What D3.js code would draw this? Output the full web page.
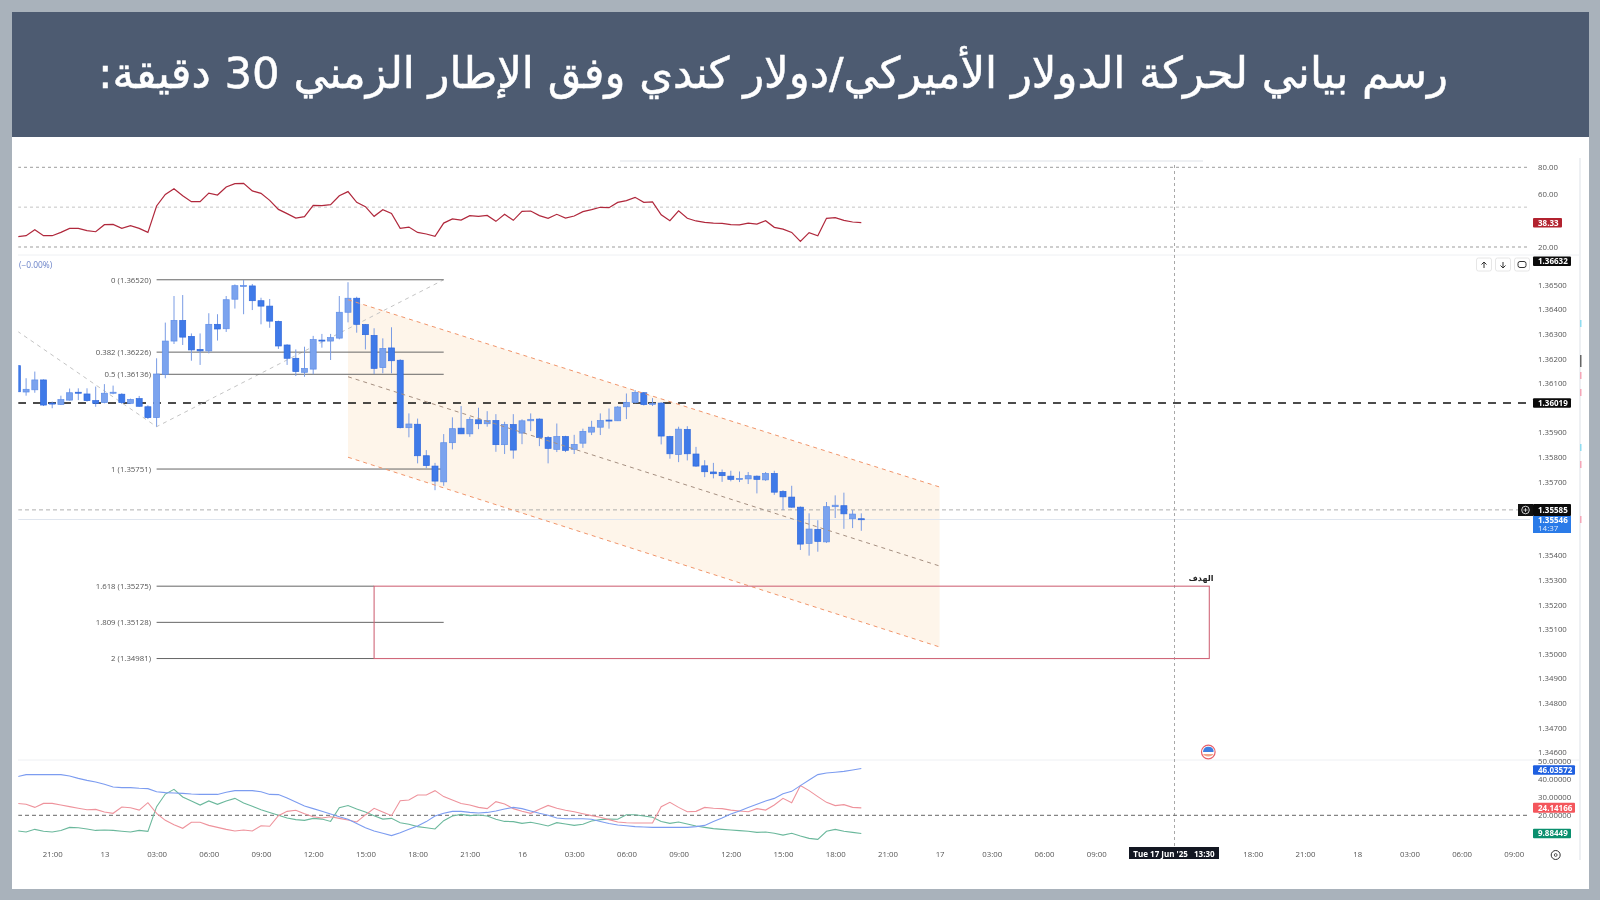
<!DOCTYPE html>
<html>
<head>
<meta charset="utf-8">
<script src="https://cdn.jsdelivr.net/npm/d3@7"></script>
<style>
  html, body { margin: 0; padding: 0; background: #a9b2bb; }
  svg { display: block; filter: blur(0.35px); }
  text { font-family: "Open Sans", sans-serif; }
</style>
</head>
<body>
<svg id="chart" width="1600" height="900"></svg>
<script>
// candles, in 1e-5 price units, 30 min bars
var opens = [136171,136064,136073,136113,136019,136013,136031,136063,136056,136029,136021,136059,136055,136018,136037,136004,135960,136136,136271,136355,136290,136237,136231,136339,136321,136441,136495,136495,136435,136413,136351,136255,136201,136144,136157,136275,136271,136283,136388,136445,136338,136294,136163,136243,136193,135919,135933,135805,135763,135699,135858,135917,135894,135951,135935,135948,135850,135932,135897,135947,135954,135879,135831,135883,135831,135856,135901,135921,135950,135947,136004,136022,136061,136015,136019,135883,135810,135912,135812,135764,135739,135737,135722,135710,135711,135722,135707,135733,135660,135637,135596,135449,135506,135455,135598,135602,135549,135549];
var highs = [136171,136120,136147,136115,136025,136049,136078,136079,136079,136086,136096,136090,136059,136037,136048,136010,136201,136346,136454,136458,136302,136302,136384,136380,136454,136501,136519,136503,136447,136442,136354,136258,136237,136248,136292,136300,136300,136454,136510,136451,136340,136323,136282,136327,136197,135977,135956,135828,135776,135893,135961,136007,135963,136000,135986,135974,135943,135974,135953,135977,135957,135885,135936,135886,135890,135915,135947,135977,135997,136007,136058,136072,136064,136039,136022,135886,135923,135925,135841,135787,135776,135749,135744,135741,135739,135725,135739,135744,135665,135683,135599,135571,135543,135617,135644,135655,135584,135571];
var lows = [136065,136049,136061,136007,135998,136011,136029,136031,136025,136004,136018,136055,136015,136015,136004,135954,135923,136120,136259,136255,136191,136174,136221,136273,136308,136403,136380,136397,136339,136325,136239,136174,136129,136126,136136,136244,136194,136278,136347,136305,136237,136137,136140,136140,135916,135880,135774,135754,135665,135683,135831,135893,135882,135913,135923,135821,135812,135793,135852,135905,135844,135774,135820,135820,135812,135837,135889,135889,135915,135946,135954,136018,136009,136007,135851,135793,135779,135786,135760,135718,135713,135699,135701,135698,135690,135652,135703,135646,135584,135594,135422,135399,135415,135451,135552,135508,135511,135500];
var closes = [136065,136075,136113,136011,136015,136033,136061,136059,136029,136018,136059,136063,136021,136034,136006,135960,136137,136271,136355,136287,136235,136231,136339,136320,136439,136496,136497,136435,136413,136352,136251,136201,136147,136160,136277,136271,136285,136388,136445,136339,136297,136160,136241,136191,135919,135934,135805,135765,135702,135858,135915,135894,135953,135935,135948,135850,135932,135828,135947,135953,135879,135835,135883,135827,135851,135904,135921,135948,135947,136003,136022,136062,136013,136018,135885,135813,135913,135813,135763,135740,135732,135724,135709,135713,135724,135709,135733,135657,135638,135596,135446,135507,135457,135598,135604,135569,135568,135545];

var rsiValues = [27.8,28.5,33.0,28.5,28.5,31.0,34.0,34.0,32.3,31.5,36.8,37.0,34.0,36.0,34.0,31.0,50.9,59.6,63.9,58.6,54.1,54.1,60.6,59.1,65.2,67.7,67.9,62.2,60.4,55.1,48.3,45.1,41.8,42.8,51.4,51.1,51.9,58.6,61.7,53.6,50.4,43.1,48.1,45.3,34.0,35.0,31.0,29.8,28.0,38.0,41.1,40.3,43.6,43.1,43.8,39.3,44.6,40.1,46.8,47.1,43.6,41.6,44.6,41.8,43.3,46.6,48.1,49.9,49.6,53.6,54.9,57.4,53.6,53.9,44.3,39.8,47.3,41.6,39.6,38.6,38.0,37.8,36.8,36.6,38.0,37.3,39.8,34.8,33.5,31.0,24.2,30.8,28.5,41.6,42.1,40.1,38.8,38.33];

var adxValues = [41.5,42.6,42.6,42.6,42.6,42.6,41.8,40.5,39.4,38.5,37.2,35.7,35.4,35.4,35.0,34.8,33.1,32.6,32.4,32.2,31.8,31.6,31.6,31.6,32.8,33.7,33.7,33.7,33.1,31.6,31.5,29.6,27.4,25.2,23.7,22.2,20.7,19.2,17.8,15.5,13.1,11.3,10.0,8.7,10.3,12.2,14.1,16.5,19.6,21.1,22.2,22.2,21.6,21.3,21.6,22.4,23.5,24.4,23.7,22.4,21.1,20.0,18.5,18.1,18.1,18.1,17.8,16.6,15.4,14.6,14.2,13.7,13.5,13.3,13.3,13.3,13.3,13.3,13.7,14.4,16.5,18.5,20.7,22.4,24.3,26.1,28.0,29.4,32.0,33.3,36.5,39.6,42.6,43.5,43.9,44.4,45.2,46.03];
var diMinusValues = [26.6,26.1,24.4,26.6,26.6,25.7,24.8,23.9,23.1,23.3,21.8,21.1,24.6,24.2,22.9,27.0,21.1,17.2,14.8,12.8,16.1,16.1,14.4,13.3,12.2,11.3,11.8,11.3,14.2,13.9,19.8,22.2,22.8,20.9,19.2,18.5,19.2,18.3,17.4,16.3,20.2,23.9,21.8,19.8,28.1,28.5,31.3,31.3,33.7,30.4,28.5,26.6,25.7,24.4,23.7,27.6,26.3,23.7,22.2,21.1,23.3,25.5,23.9,22.8,22.0,20.9,19.8,18.9,17.6,16.3,15.9,15.7,15.7,15.7,24.8,27.2,24.4,22.0,22.2,24.4,23.9,23.7,22.9,22.4,22.0,23.7,22.9,25.7,29.4,27.0,36.5,33.7,30.4,27.2,25.4,25.9,24.4,24.14];
var diPlusValues = [11.3,10.7,12.2,11.1,10.7,11.6,13.3,13.1,12.4,11.6,11.8,11.6,11.1,10.7,11.6,11.1,24.8,31.8,34.4,30.2,28.0,25.7,28.0,26.1,28.0,29.4,26.8,25.0,23.1,21.5,20.0,18.5,17.6,17.2,18.3,17.9,16.6,24.2,25.4,23.5,21.8,19.8,17.9,18.3,15.9,15.0,13.7,13.1,12.4,17.0,19.6,20.5,19.8,20.2,19.6,17.8,16.6,16.5,15.5,16.1,15.2,14.1,15.9,15.2,14.4,15.0,16.8,17.6,17.9,17.8,20.3,20.3,19.6,18.9,16.5,15.5,16.3,15.2,14.1,13.3,12.6,12.2,11.8,11.5,11.1,10.5,10.7,10.0,9.0,10.0,8.5,7.2,6.6,11.1,12.2,11.1,10.5,9.88];

var priceTicks = [1.365,1.364,1.363,1.362,1.361,1.359,1.358,1.357,1.354,1.353,1.352,1.351,1.35,1.349,1.348,1.347,1.346];
var rsiTicks = [80,60,20];
var rsiLevels = [80,50,20];
var dmiTicks = [50,40,30,20];
var timeLabels = ["21:00","13","03:00","06:00","09:00","12:00","15:00","18:00","21:00","16","03:00","06:00","09:00","12:00","15:00","18:00","21:00","17","03:00","06:00","09:00","","","18:00","21:00","18","03:00","06:00","09:00"];

var fibNames = ["0","0.382","0.5","1","1.618","1.809","2"];
var fibPrices = [1.3652,1.36226,1.36136,1.35751,1.35275,1.35128,1.34981];

// drawing tools, as [bar, price]
var zigzag = [[0,1.36311],[16,1.35923],[49,1.3652]];
var channelTop = [[38,1.36439],[106,1.35678]];
var channelMid = [[38,1.36126],[106,1.35357]];
var channelBottom = [[38,1.35799],[106,1.35028]];
var targetBox = [41,137,1.35275,1.34981];
var crosshairBar = 133;

var svg = d3.select("#chart");

var x = d3.scaleLinear().domain([0, 100]).range([17.4, 887.4]);
var y = d3.scaleLinear().domain([1.365, 1.346]).range([284.7, 752.3]);
var yRsi = d3.scaleLinear().domain([80, 20]).range([167.3, 247]);
var yDmi = d3.scaleLinear().domain([40, 20]).range([779.3, 815.3]);

// frame and title
svg.append("rect").attr("width", 1600).attr("height", 900).attr("fill", "#a9b2bb");
svg.append("rect").attr("x", 12).attr("y", 12).attr("width", 1577).attr("height", 877).attr("fill", "#fff");
svg.append("rect").attr("x", 12).attr("y", 12).attr("width", 1577).attr("height", 125).attr("fill", "#4d5b71");
svg.append("text")
  .attr("x", 773).attr("y", 88)
  .attr("text-anchor", "middle")
  .attr("direction", "rtl")
  .attr("fill", "#fff")
  .attr("stroke", "#fff").attr("stroke-width", 0.5)
  .style("font-family", "'DejaVu Sans', sans-serif")
  .style("font-size", "43.3px")
  .text("رسم بياني لحركة الدولار الأميركي/دولار كندي وفق الإطار الزمني 30 دقيقة:");

// panel edges
var edge = svg.append("g").attr("stroke", "#eef0f3").attr("fill", "none");
edge.append("line").attr("x1", 18).attr("x2", 1580).attr("y1", 255).attr("y2", 255);
edge.append("line").attr("x1", 18).attr("x2", 1580).attr("y1", 760).attr("y2", 760);
edge.append("line").attr("x1", 1580).attr("x2", 1580).attr("y1", 158).attr("y2", 860).attr("stroke-width", 2);
edge.append("line").attr("x1", 620).attr("x2", 1203).attr("y1", 161).attr("y2", 161).attr("stroke-width", 2);

// clip for the left edge of the chart
svg.append("clipPath").attr("id", "plot").append("rect")
  .attr("x", 18.3).attr("y", 150).attr("width", 1512).attr("height", 700);
var plot = svg.append("g").attr("clip-path", "url(#plot)");

// channel
plot.append("polygon")
  .attr("fill", "#fef5ea")
  .attr("points", [channelTop[0], channelTop[1], channelBottom[1], channelBottom[0]]
    .map(function(d) { return x(d[0]) + "," + y(d[1]); }).join(" "));

// horizontal guides
plot.append("line").attr("x1", 18).attr("x2", 1530).attr("y1", y(1.35546)).attr("y2", y(1.35546))
  .attr("stroke", "#dfe5ee").attr("stroke-width", 1);
plot.append("line").attr("x1", 18).attr("x2", 1530).attr("y1", y(1.35585)).attr("y2", y(1.35585))
  .attr("stroke", "#9a9a9a").attr("stroke-width", 0.8).attr("stroke-dasharray", "4 3");
plot.append("line").attr("x1", 18).attr("x2", 1530).attr("y1", y(1.36019)).attr("y2", y(1.36019))
  .attr("stroke", "#111").attr("stroke-width", 1.5).attr("stroke-dasharray", "8 7");

// crosshair
plot.append("line").attr("x1", x(crosshairBar)).attr("x2", x(crosshairBar)).attr("y1", 165).attr("y2", 846)
  .attr("stroke", "#a8a8a8").attr("stroke-dasharray", "3 3");

var chartLine = d3.line().x(function(d) { return x(d[0]); }).y(function(d) { return y(d[1]); });

plot.append("path").attr("d", chartLine(zigzag)).attr("fill", "none")
  .attr("stroke", "#c4c4c4").attr("stroke-width", 1).attr("stroke-dasharray", "4 4");

// fibonacci levels
var fibEnd = [49, 49, 49, 49, 41, 49, 41];
plot.selectAll(".fib").data(fibPrices).enter().append("line")
  .attr("class", "fib")
  .attr("x1", x(16)).attr("x2", function(d, i) { return x(fibEnd[i]); })
  .attr("y1", function(d) { return y(d); }).attr("y2", function(d) { return y(d); })
  .attr("stroke", "#666").attr("stroke-width", 1);
svg.selectAll(".fibLabel").data(fibPrices).enter().append("text")
  .attr("class", "fibLabel")
  .attr("x", 151).attr("y", function(d) { return y(d) + 2.8; })
  .attr("text-anchor", "end").attr("fill", "#555")
  .style("font-size", "7.8px")
  .text(function(d, i) { return fibNames[i] + " (" + d.toFixed(5) + ")"; });

// candles
var bars = d3.range(opens.length);
var upFill = "#7ba3ee", downFill = "#3f7ae8";
function barColor(i) { return closes[i] >= opens[i] ? upFill : downFill; }
var candleWidth = 6;
plot.selectAll(".wick").data(bars).enter().append("line")
  .attr("class", "wick")
  .attr("x1", function(i) { return x(i); }).attr("x2", function(i) { return x(i); })
  .attr("y1", function(i) { return y(highs[i] / 1e5); }).attr("y2", function(i) { return y(lows[i] / 1e5); })
  .attr("stroke", "#7a9ce4").attr("stroke-width", 1);
plot.selectAll(".body").data(bars).enter().append("rect")
  .attr("class", "body")
  .attr("x", function(i) { return x(i) - candleWidth / 2; })
  .attr("width", candleWidth)
  .attr("y", function(i) { return y(Math.max(opens[i], closes[i]) / 1e5); })
  .attr("height", function(i) { return Math.max(1, y(Math.min(opens[i], closes[i]) / 1e5) - y(Math.max(opens[i], closes[i]) / 1e5)); })
  .attr("fill", barColor)
  .attr("stroke", function(i) { return closes[i] >= opens[i] ? "#5f8ee8" : "#2f68dc"; })
  .attr("stroke-width", 0.7);

// channel lines on top of the candles
plot.append("path").attr("d", chartLine(channelTop)).attr("fill", "none")
  .attr("stroke", "#f0946a").attr("stroke-width", 1).attr("stroke-dasharray", "4 4");
plot.append("path").attr("d", chartLine(channelBottom)).attr("fill", "none")
  .attr("stroke", "#f0946a").attr("stroke-width", 1).attr("stroke-dasharray", "4 4");
plot.append("path").attr("d", chartLine(channelMid)).attr("fill", "none")
  .attr("stroke", "#a58f80").attr("stroke-width", 1).attr("stroke-dasharray", "4 4");

// target box
plot.append("rect")
  .attr("x", x(targetBox[0])).attr("y", y(targetBox[2]))
  .attr("width", x(targetBox[1]) - x(targetBox[0]))
  .attr("height", y(targetBox[3]) - y(targetBox[2]))
  .attr("fill", "none").attr("stroke", "#d0687a").attr("stroke-width", 1.1);
svg.append("text")
  .attr("x", 1201).attr("y", 581)
  .attr("text-anchor", "middle").attr("direction", "rtl").attr("fill", "#222")
  .style("font-family", "'DejaVu Sans', sans-serif").style("font-size", "8px").style("font-weight", "bold")
  .text("الهدف");

svg.append("text").attr("x", 19).attr("y", 268).attr("fill", "#6a82c8").style("font-size", "8.4px").text("(−0.00%)");

// rsi panel
plot.selectAll(".rsiLevel").data(rsiLevels).enter().append("line")
  .attr("class", "rsiLevel")
  .attr("x1", 18).attr("x2", 1530)
  .attr("y1", function(d) { return yRsi(d); }).attr("y2", function(d) { return yRsi(d); })
  .attr("stroke", function(d) { return d === 50 ? "#c4c4c4" : "#9d9d9d"; })
  .attr("stroke-dasharray", "3 3");
var rsiLine = d3.line().x(function(d, i) { return x(i); }).y(function(d) { return yRsi(d); });
plot.append("path").attr("d", rsiLine(rsiValues)).attr("fill", "none")
  .attr("stroke", "#b0283c").attr("stroke-width", 1.2);

// dmi panel
plot.append("line").attr("x1", 18).attr("x2", 1530).attr("y1", yDmi(20)).attr("y2", yDmi(20))
  .attr("stroke", "#666").attr("stroke-dasharray", "4 3");
var dmiLine = d3.line().x(function(d, i) { return x(i); }).y(function(d) { return yDmi(d); });
[[diPlusValues, "#6bb89c"], [diMinusValues, "#ee939c"], [adxValues, "#7c9cf0"]].forEach(function(s) {
  plot.append("path").attr("d", dmiLine(s[0])).attr("fill", "none")
    .attr("stroke", s[1]).attr("stroke-width", 1.1);
});

// axes
function styleAxis(g) {
  g.select(".domain").remove();
  g.selectAll(".tick line").remove();
  g.selectAll("text").attr("fill", "#555").style("font-size", "7.8px").style("font-family", "'Open Sans', sans-serif");
}
svg.append("g").attr("transform", "translate(1538,0)")
  .call(d3.axisRight(y).tickValues(priceTicks).tickSize(0).tickPadding(0).tickFormat(d3.format(".5f")))
  .call(styleAxis);
svg.append("g").attr("transform", "translate(1538,0)")
  .call(d3.axisRight(yRsi).tickValues(rsiTicks).tickSize(0).tickPadding(0).tickFormat(d3.format(".2f")))
  .call(styleAxis);
svg.append("g").attr("transform", "translate(1538,0)")
  .call(d3.axisRight(yDmi).tickValues(dmiTicks).tickSize(0).tickPadding(0).tickFormat(d3.format(".5f")))
  .call(styleAxis);
var timeBars = timeLabels.map(function(d, i) { return 4 + 6 * i; });
svg.append("g").attr("transform", "translate(0,851)")
  .call(d3.axisBottom(x).tickValues(timeBars).tickSize(0).tickPadding(0)
    .tickFormat(function(d) { return timeLabels[(d - 4) / 6]; }))
  .call(styleAxis);

// value tags
function tag(x0, x1, yMid, h, fill, label, color) {
  svg.append("rect").attr("x", x0).attr("y", yMid - h / 2).attr("width", x1 - x0).attr("height", h)
    .attr("rx", 1).attr("fill", fill);
  svg.append("text").attr("x", x0 + 5).attr("y", yMid + 2.9).attr("fill", color || "#fff")
    .style("font-size", "8px").style("font-weight", "bold").text(label);
}
tag(1533, 1562, yRsi(38.33), 9.5, "#b2222f", "38.33");
// the high tag sits pinned to the top of the price pane, its real level is off the pane
tag(1533, 1571, 261.3, 9.5, "#0b0b0b", "1.36632");
tag(1533, 1571, y(1.36019), 9.5, "#0b0b0b", "1.36019");
svg.append("rect").attr("x", 1533).attr("y", 516).attr("width", 38).attr("height", 17).attr("fill", "#2a7be8");
svg.append("text").attr("x", 1538).attr("y", 523).attr("fill", "#fff").style("font-size", "8px").style("font-weight", "bold").text("1.35546");
svg.append("text").attr("x", 1538).attr("y", 531).attr("fill", "#dce9fd").style("font-size", "8px").text("14:37");
tag(1533, 1571, y(1.35585), 12, "#0b0b0b", "1.35585");
tag(1533, 1575, yDmi(46.03) + 1.5, 9.5, "#1e5fe0", "46.03572");
tag(1533, 1575, yDmi(24.14), 10, "#f4565c", "24.14166");
tag(1533, 1571, yDmi(9.88), 9.5, "#0a8f6e", "9.88449");

// alert button next to the last-value tag
svg.append("rect").attr("x", 1518).attr("y", 504).attr("width", 15).attr("height", 12).attr("fill", "#111");
svg.append("circle").attr("cx", 1525.5).attr("cy", 510).attr("r", 3.8).attr("fill", "none").attr("stroke", "#fff").attr("stroke-width", 0.8);
svg.append("path").attr("d", "M1523.5 510h4M1525.5 508v4").attr("stroke", "#fff").attr("stroke-width", 0.7);

// crosshair date tag
svg.append("rect").attr("x", 1129).attr("y", 847).attr("width", 90).attr("height", 12).attr("fill", "#131722");
svg.append("text").attr("x", 1174).attr("y", 857).attr("text-anchor", "middle").attr("fill", "#fff")
  .style("font-size", "8px").style("font-weight", "bold").text("Tue 17 Jun '25\u00a0\u00a0\u00a013:30");

// navigation buttons
[1484, 1503, 1522].forEach(function(cx, i) {
  svg.append("rect").attr("x", cx - 7.5).attr("y", 258).attr("width", 15).attr("height", 13).attr("rx", 2)
    .attr("fill", "#fff").attr("stroke", "#e6e6e6");
  if (i === 0) svg.append("path").attr("d", "M" + cx + " 268v-6M" + (cx - 2.5) + " 264.5l2.5-2.5 2.5 2.5").attr("fill", "none").attr("stroke", "#333");
  if (i === 1) svg.append("path").attr("d", "M" + cx + " 262v6M" + (cx - 2.5) + " 265.5l2.5 2.5 2.5-2.5").attr("fill", "none").attr("stroke", "#333");
  if (i === 2) svg.append("rect").attr("x", cx - 4).attr("y", 261.5).attr("width", 8).attr("height", 6).attr("rx", 2).attr("fill", "none").attr("stroke", "#333");
});

// side markers on the right border
var sideY = [323, 358, 375, 392, 447, 464, 519];
var sideColor = ["#8fdcf0", "#666", "#f4a6b8", "#f4a6b8", "#8fdcf0", "#f4a6b8", "#f4a6b8"];
svg.selectAll(".side").data(sideY).enter().append("rect")
  .attr("class", "side").attr("x", 1580).attr("width", 1.5)
  .attr("y", function(d) { return d - 3; }).attr("height", function(d, i) { return i === 1 ? 12 : 7; })
  .attr("fill", function(d, i) { return sideColor[i]; });

// event flag
svg.append("circle").attr("cx", 1208.3).attr("cy", 752).attr("r", 6.8).attr("fill", "#fff").attr("stroke", "#e8606a").attr("stroke-width", 1.2);
svg.append("path").attr("d", "M1203 752a5.5 5.5 0 0 1 10.5 -2v2z").attr("fill", "#3f7fe0");
svg.append("path").attr("d", "M1203 754h10.5a5.5 3.5 0 0 1 -10.5 0z").attr("fill", "#f0a58a");

// settings icon at the end of the time axis
svg.append("circle").attr("cx", 1555.7).attr("cy", 855).attr("r", 4.5).attr("fill", "none").attr("stroke", "#333").attr("stroke-width", 1);
svg.append("circle").attr("cx", 1555.7).attr("cy", 855).attr("r", 1.4).attr("fill", "none").attr("stroke", "#333").attr("stroke-width", 0.8);
</script>
</body>
</html>
